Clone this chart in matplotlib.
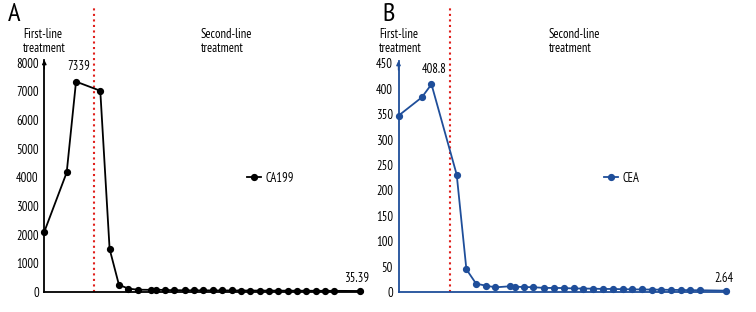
import matplotlib
matplotlib.use("Agg")
import matplotlib.pyplot as plt
from matplotlib.lines import Line2D

plt.rcParams['font.family'] = ['PT Sans Narrow', 'Roboto Condensed', 'DejaVu Sans']
plt.rcParams['font.size'] = 9

# visit positions (relative time), shared by both panels
visits = [0, 2.4, 3.4, 6.0, 7.0, 8.0, 9.0, 10.0, 11.45, 12.0, 12.9, 13.85, 15.05,
          16.05, 17.05, 18.05, 19.05, 20.1, 21.1, 22.1, 23.1, 24.1, 25.1, 26.1,
          27.1, 28.1, 29.1, 30.1, 31.1, 33.8]
ca199 = [2100, 4170, 7339, 7020, 1500, 250, 120, 80, 75, 80, 70, 65, 60, 60, 58,
         56, 55, 54, 52, 50, 50, 48, 47, 46, 45, 44, 42, 41, 40, 35.39]
cea = [347, 383, 408.8, 231, 44.6, 16.4, 12.5, 9.2, 11.2, 10.5, 9.8, 9.5, 8, 8,
       7.8, 7, 6.8, 6.5, 6, 6, 5.5, 5.2, 5, 4.8, 4.5, 4.2, 4, 3.6, 3.4, 2.64]
switch_point = 5.35

W, H = 756, 312
fig = plt.figure(figsize=(W / 100, H / 100), dpi=100)


def px(x0, y0, x1, y1):
    # left, top, right, bottom in pixels -> figure rect
    return [x0 / W, 1 - y1 / H, (x1 - x0) / W, (y1 - y0) / H]


def panel(rect, xmax, y, ymax, yticks, color, name, peak_lbl, last_lbl, letter, lx,
          first_x, second_x, leg_xy):
    ax = fig.add_axes(rect)
    ax.plot(visits, y, '-o', color=color, lw=1.3, ms=4.2, clip_on=False, zorder=3)
    ax.set_xlim(0, xmax)
    ax.set_ylim(0, ymax)
    ax.set_yticks(yticks)
    ax.set_xticks([])
    ax.tick_params(axis='y', length=0, pad=4, labelsize=9)
    for s in ['top', 'right']:
        ax.spines[s].set_visible(False)
    for s in ['left', 'bottom']:
        ax.spines[s].set_color(color)
        ax.spines[s].set_linewidth(1.3)
    # arrow head on the y axis
    ax.annotate('', xy=(0, 1.0), xytext=(0, 0.96), xycoords='axes fraction',
                arrowprops=dict(arrowstyle='-|>', color=color, lw=1.0, mutation_scale=6,
                                shrinkA=0, shrinkB=0))
    # treatment switch
    ax.plot([switch_point, switch_point], [0, ymax * 1.235], ':', color='#e0201c', lw=1.5,
            clip_on=False, zorder=2)
    k = y.index(max(y))
    ax.annotate(peak_lbl, (visits[k], y[k]), xytext=(2, 6),
                textcoords='offset points', ha='center', va='bottom', fontsize=9)
    ax.annotate(last_lbl, (visits[-1], y[-1]), xytext=(-2, 4),
                textcoords='offset points', ha='center', va='bottom', fontsize=9)
    fig.text(lx / W, 1 - 3 / H, letter, fontsize=19, va='top', ha='left')
    fig.text(first_x / W, 1 - 28 / H, 'First-line\ntreatment', va='top', ha='left',
             fontsize=9, linespacing=1.05)
    fig.text(second_x / W, 1 - 28 / H, 'Second-line\ntreatment', va='top', ha='left',
             fontsize=9, linespacing=1.05)
    h = Line2D([], [], color=color, marker='o', lw=1.3, ms=4.2)
    ax.legend([h], [name], loc='center left', bbox_to_anchor=(leg_xy[0] / W, 1 - leg_xy[1] / H),
              bbox_transform=fig.transFigure, frameon=False, handlelength=1.1,
              handletextpad=0.4, borderpad=0, borderaxespad=0, fontsize=9)
    return ax


panel(px(44.3, 59.8, 363, 292), 34.16, ca199, 8100, range(0, 8001, 1000), 'black',
      'CA199', '7339', '35.39', 'A', 8, 23, 201, (247, 178))
panel(px(398.5, 60.8, 727, 292), 33.87, cea, 455, range(0, 451, 50), '#1f4e9a',
      'CEA', '408.8', '2.64', 'B', 382, 379, 549, (604, 178))

fig.savefig('out.png', dpi=100)
